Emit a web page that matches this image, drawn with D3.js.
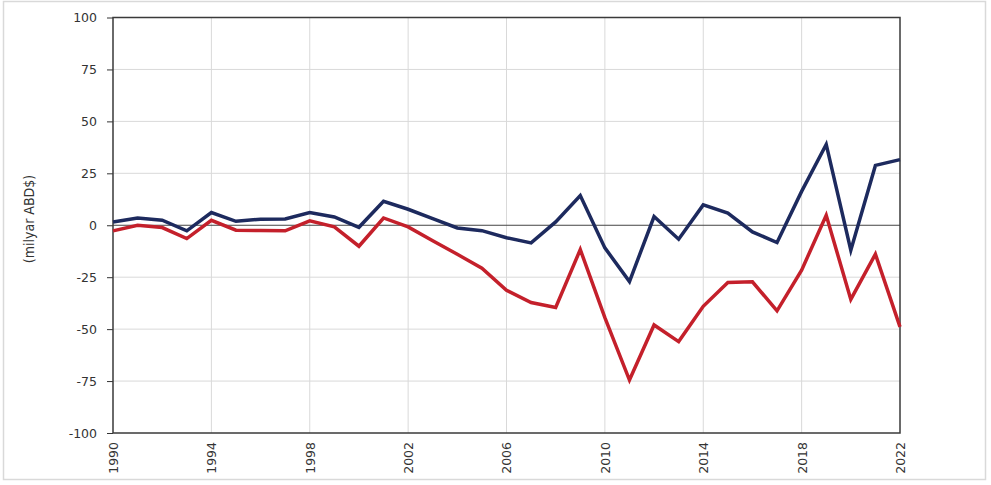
<!DOCTYPE html>
<html>
<head>
<meta charset="utf-8">
<script src="https://cdn.jsdelivr.net/npm/d3@7"></script>
<style>
  body { margin: 0; background: #fff; }
  svg { display: block; }
</style>
</head>
<body>
<div id="chart"></div>
<script>
// data
const years = d3.range(1990, 2023);
const blueValues = [1.6, 3.5, 2.4, -2.7, 6.1, 1.9, 2.9, 3.0, 6.1, 4.0, -1.0, 11.5, 7.7, 3.2, -1.3, -2.6,
  -6.0, -8.5, 1.6, 14.3, -10.9, -27.1, 4.2, -6.7, 9.8, 5.9, -3.2, -8.3, 16.3, 38.9, -12.0, 28.8, 31.6];
const redValues = [-2.7, 0.0, -1.1, -6.4, 2.4, -2.4, -2.5, -2.7, 2.1, -0.8, -10.1, 3.5, -0.8, -7.5, -14.0, -20.7,
  -31.3, -37.2, -39.6, -11.7, -44.5, -74.5, -48.0, -56.0, -39.0, -27.6, -27.2, -41.2, -21.6, 4.8, -35.7, -13.9, -48.9];
const yTicks = [-100, -75, -50, -25, 0, 25, 50, 75, 100];
const xTicks = [1990, 1994, 1998, 2002, 2006, 2010, 2014, 2018, 2022];
const yLabel = "(milyar ABD$)";

const width = 991, height = 485;
const margin = {top: 17.5, right: 91, bottom: 52, left: 113};

const svg = d3.select("#chart")
    .append("svg")
    .attr("width", width)
    .attr("height", height);

// outer frame
svg.append("rect")
    .attr("x", 3.5).attr("y", 1.5)
    .attr("width", 982).attr("height", 478)
    .attr("fill", "none")
    .attr("stroke", "#d9d9d9")
    .attr("stroke-width", 1.5);

let x = d3.scaleLinear()
    .domain([1990, 2022])
    .range([margin.left, width - margin.right]);

let y = d3.scaleLinear()
    .domain([-100, 100])
    .range([height - margin.bottom, margin.top]);

// gridlines
svg.append("g")
    .selectAll("line.h")
    .data(yTicks.filter(d => d !== 0 && d !== 100 && d !== -100))
    .enter().append("line")
    .attr("x1", x(1990)).attr("x2", x(2022))
    .attr("y1", d => y(d)).attr("y2", d => y(d))
    .attr("stroke", "#d9d9d9").attr("stroke-width", 1);

svg.append("g")
    .selectAll("line.v")
    .data(xTicks.filter(d => d !== 1990 && d !== 2022))
    .enter().append("line")
    .attr("x1", d => x(d)).attr("x2", d => x(d))
    .attr("y1", y(100)).attr("y2", y(-100))
    .attr("stroke", "#d9d9d9").attr("stroke-width", 1);

// zero line
svg.append("line")
    .attr("x1", x(1990)).attr("x2", x(2022))
    .attr("y1", y(0)).attr("y2", y(0))
    .attr("stroke", "#444").attr("stroke-width", 1);

// Add y-axis
let yAxis = svg.append("g")
    .attr("transform", `translate(${x(1990)}, 0)`)
    .call(d3.axisLeft(y).tickValues(yTicks).tickSize(6).tickPadding(10).tickFormat(d => String(d)));
yAxis.select(".domain").remove();
yAxis.selectAll("line").attr("stroke", "#333");
yAxis.selectAll("text")
    .attr("fill", "#333")
    .style("font-family", "'DejaVu Sans', sans-serif")
    .style("font-size", "12.5px");

// Add x-axis
let xAxis = svg.append("g")
    .attr("transform", `translate(0, ${y(-100)})`)
    .call(d3.axisBottom(x).tickValues(xTicks).tickSize(0).tickFormat(d => String(d)));
xAxis.select(".domain").remove();
xAxis.selectAll("text")
    .attr("fill", "#333")
    .style("font-family", "'DejaVu Sans', sans-serif")
    .style("font-size", "12.5px")
    .attr("transform", "rotate(-90)")
    .attr("x", -9)
    .attr("y", 0)
    .attr("dy", "0.35em")
    .style("text-anchor", "end");

// plot box
svg.append("rect")
    .attr("x", x(1990)).attr("y", y(100))
    .attr("width", x(2022) - x(1990)).attr("height", y(-100) - y(100))
    .attr("fill", "none")
    .attr("stroke", "#3a3a3a")
    .attr("stroke-width", 1.5);

// y-axis title
svg.append("text")
    .attr("transform", `translate(34, ${y(3)}) rotate(-90)`)
    .style("text-anchor", "middle")
    .style("font-family", "'Liberation Sans Narrow', 'DejaVu Sans Condensed', sans-serif")
    .style("font-size", "14px")
    .attr("fill", "#333")
    .text(yLabel);

// lines
let line = d3.line()
    .x((d, i) => x(years[i]))
    .y(d => y(d));

svg.append("path")
    .datum(redValues)
    .attr("d", line)
    .attr("fill", "none")
    .attr("stroke", "#c4202b")
    .attr("stroke-width", 3.5)
    .attr("stroke-linejoin", "miter");

svg.append("path")
    .datum(blueValues)
    .attr("d", line)
    .attr("fill", "none")
    .attr("stroke", "#1d2a5e")
    .attr("stroke-width", 3.5)
    .attr("stroke-linejoin", "miter");
</script>
</body>
</html>
